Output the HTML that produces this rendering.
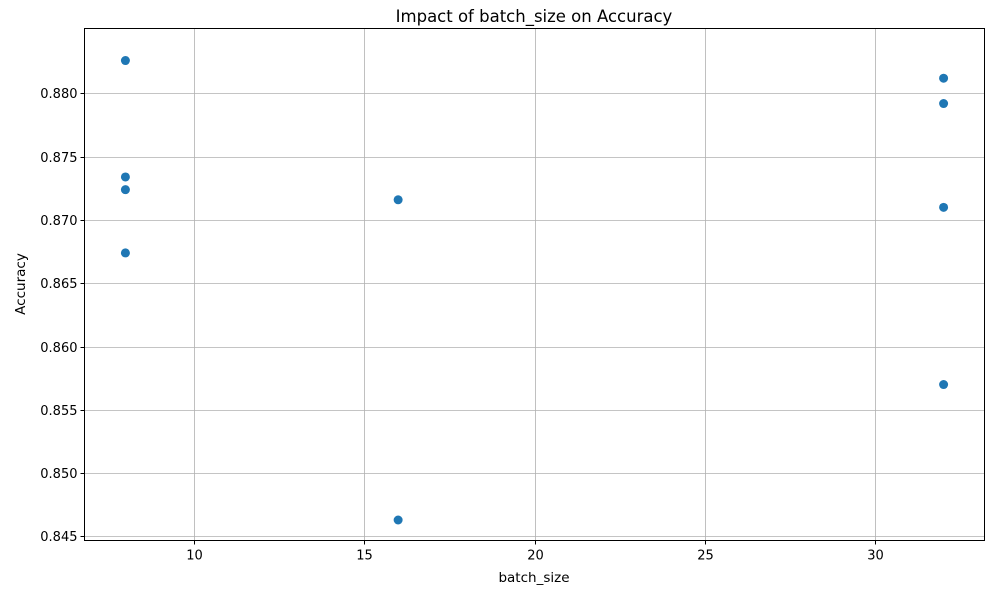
<!DOCTYPE html>
<html><head><meta charset="utf-8">
<style>
body{margin:0;background:#fff;font-family:"Liberation Sans","DejaVu Sans",sans-serif;}
svg text{font-family:"DejaVu Sans","Liberation Sans",sans-serif;fill:#000;}
</style></head>
<body>
<svg id="chart" width="1000" height="600" xmlns="http://www.w3.org/2000/svg">
<rect width="1000" height="600" fill="#fff"/>
<g id="grid"></g>
<g id="points"></g>
<rect x="84.5" y="28.5" width="900" height="512" fill="none" stroke="#000" stroke-width="1"/>
<g id="xticks"></g>
<g id="yticks"></g>
<text x="534" y="22" font-size="16.5" text-anchor="middle">Impact of batch_size on Accuracy</text>
<text x="534" y="582" font-size="13.5" text-anchor="middle">batch_size</text>
<text x="25" y="284" font-size="13.5" text-anchor="middle" transform="rotate(-90 25 284)">Accuracy</text>
</svg>
<script>
const batchSizes=[8,8,8,8,16,16,32,32,32,32];
const accuracies=[0.8826,0.8734,0.8724,0.8674,0.8716,0.8463,0.8812,0.8792,0.8710,0.8570];
const xTicks=[10,15,20,25,30];
const yTicks=[0.845,0.850,0.855,0.860,0.865,0.870,0.875,0.880];
const L=84.5,R=984.5,T=28.5,B=540.5;
const xMin=6.8,xMax=33.2,yMin=0.84468,yMax=0.88513;
function sx(v){return L+(v-xMin)/(xMax-xMin)*(R-L);}
function sy(v){return B-(v-yMin)/(yMax-yMin)*(B-T);}
const NS="http://www.w3.org/2000/svg";
const grid=document.getElementById('grid'),xt=document.getElementById('xticks'),yt=document.getElementById('yticks'),pts=document.getElementById('points');
function mk(tag,attrs,parent){const e=document.createElementNS(NS,tag);for(const k in attrs)e.setAttribute(k,attrs[k]);parent.appendChild(e);return e;}
xTicks.forEach(v=>{const x=Math.round(sx(v))+0.5;
const g=mk('line',{x1:x,x2:x,y1:T,y2:B,stroke:'#b0b0b0','stroke-width':0.8},grid);


mk('line',{x1:x,x2:x,y1:B,y2:B+4,stroke:'#000'},xt);
const t=mk('text',{x:x,y:B+19,'font-size':13,'text-anchor':'middle'},xt);t.textContent=v;


});
yTicks.forEach(v=>{const y=Math.round(sy(v))+0.5;
const g=mk('line',{x1:L,x2:R,y1:y,y2:y,stroke:'#b0b0b0','stroke-width':0.8},grid);


mk('line',{x1:L-4,x2:L,y1:y,y2:y,stroke:'#000'},yt);
const t=mk('text',{x:L-7,y:y+4.5,'font-size':13,'text-anchor':'end'},yt);t.textContent=v.toFixed(3);


});
batchSizes.forEach((b,i)=>{const c=mk('circle',{cx:sx(b),cy:sy(accuracies[i]),r:4.5,fill:'#1f77b4'},pts);


});
</script>
</body></html>
